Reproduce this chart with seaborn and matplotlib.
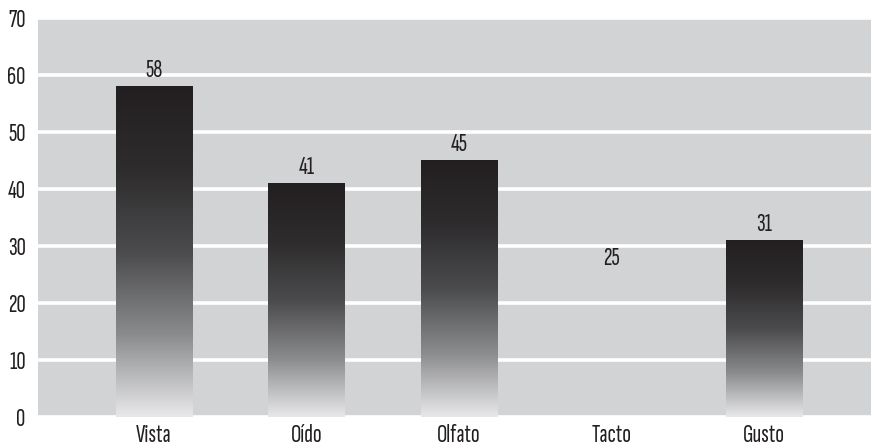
import numpy as np
import pandas as pd
import matplotlib
matplotlib.use("Agg")
import matplotlib.pyplot as plt
import seaborn as sns
from matplotlib.colors import LinearSegmentedColormap

categories = ["Vista", "Oído", "Olfato", "Tacto", "Gusto"]
values = [58, 41, 45, 25, 31]
y_ticks = [0, 10, 20, 30, 40, 50, 60, 70]

df = pd.DataFrame({"sentido": categories, "valor": values})

sns.set_theme(style="white")
plt.rcParams["font.family"] = ["Sofia Sans Extra Condensed", "DejaVu Sans"]

bg = "#d2d3d5"
ink = "#231f20"
fs = 18.5
fig = plt.figure(figsize=(8.71, 4.48), dpi=100)
ax = fig.add_axes([38 / 871, 31 / 448, 833 / 871, 399 / 448])
ax.set_facecolor(bg)

sns.barplot(data=df, x="sentido", y="valor", width=0.5, color=bg,
            edgecolor="none", ax=ax, zorder=2)

ax.set_xlim(-0.76, 4.70)
ax.set_ylim(0, 70)
ax.set_yticks(y_ticks)
ax.yaxis.grid(True, color="white", linewidth=2.6, zorder=1)
ax.set_axisbelow(True)
for s in ax.spines.values():
    s.set_visible(False)
ax.tick_params(axis="both", length=0, labelsize=fs, colors=ink)
ax.tick_params(axis="y", pad=9)
ax.tick_params(axis="x", pad=5)
ax.set_xlabel("")
ax.set_ylabel("")

# vertical dark-to-light fill for each bar; Tacto is left unfilled
cmap = LinearSegmentedColormap.from_list(
    "shade", ["#231f20", "#2e2c2d", "#4b4b4d", "#8a8b8d", "#e8e8ea"])
grad = np.linspace(0, 1, 256).reshape(-1, 1)
for patch, cat, val in zip(ax.patches, categories, values):
    x0 = patch.get_x()
    w = patch.get_width()
    if cat == "Tacto":
        patch.set_alpha(0)
    else:
        im = ax.imshow(grad, cmap=cmap, aspect="auto", origin="upper",
                       extent=[x0, x0 + w, 0, val], zorder=3,
                       interpolation="bicubic")
        im.set_clip_path(patch)
    ax.annotate(f"{val}", (x0 + w / 2, val), xytext=(0, 11.5),
                textcoords="offset points", ha="center", va="center",
                fontsize=fs, color=ink, zorder=4)

ax.set_xlim(-0.76, 4.70)
ax.set_ylim(0, 70)
fig.savefig("out.png", dpi=100, facecolor="white")
